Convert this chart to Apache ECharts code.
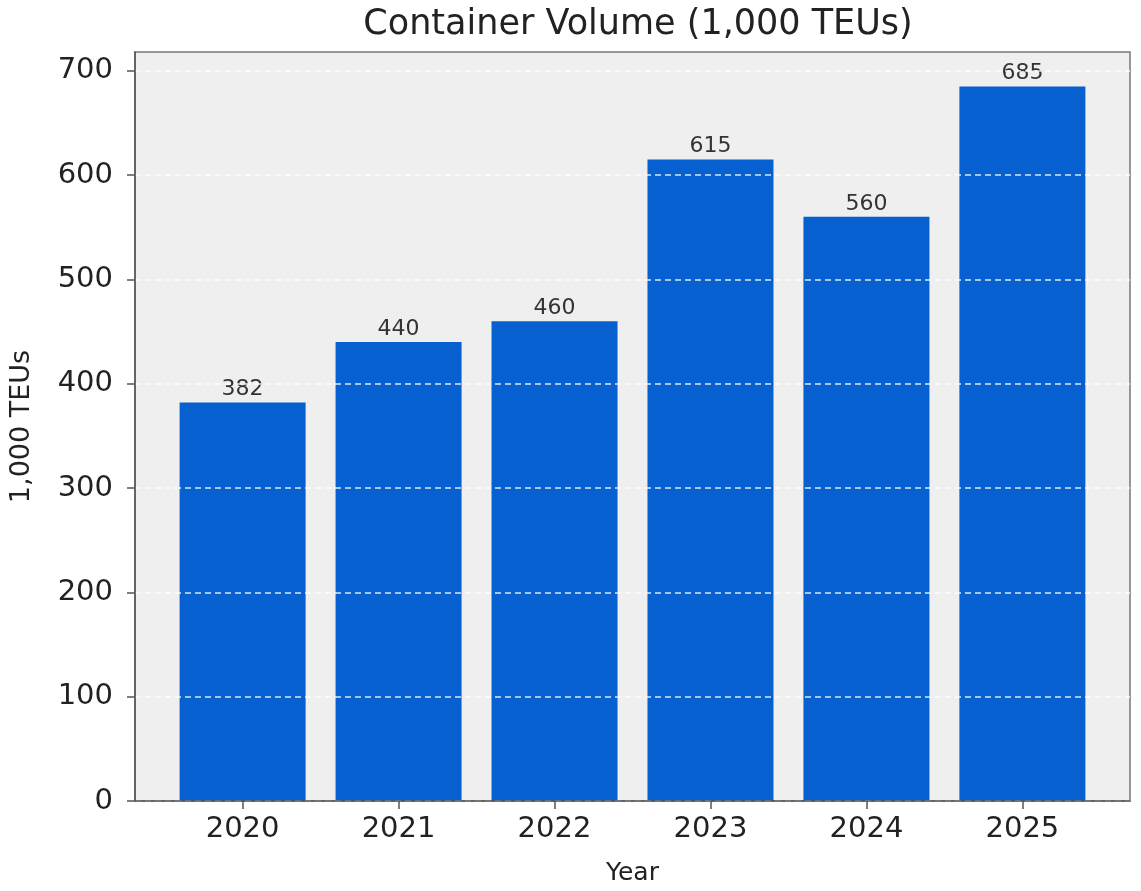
<!DOCTYPE html>
<html>
<head>
<meta charset="utf-8">
<script src="https://cdn.jsdelivr.net/npm/echarts@6/dist/echarts.min.js"></script>
<style>
html,body{margin:0;padding:0;background:#fff;}
#chart{width:1141px;height:891px;}
</style>
</head>
<body>
<div id="chart"></div>
<script>
const years = ['2020', '2021', '2022', '2023', '2024', '2025'];
const volumes = [382, 440, 460, 615, 560, 685];
const yTicks = [0, 100, 200, 300, 400, 500, 600, 700];

const FONT = 'DejaVu Sans';
const chart = echarts.init(document.getElementById('chart'));
const idx = years.map((y, i) => i);

chart.setOption({
  backgroundColor: '#ffffff',
  animation: false,
  title: {
    text: 'Container Volume (1,000 TEUs)',
    left: 633,
    textAlign: 'center',
    top: 2,
    textStyle: { fontFamily: FONT, fontSize: 35, fontWeight: 'normal', color: '#222' }
  },
  grid: {
    left: 133, right: 11, top: 52, bottom: 89,
    show: true,
    backgroundColor: '#efefef',
    borderColor: '#777',
    borderWidth: 1.5
  },
  xAxis: {
    type: 'value',
    min: -0.69,
    max: 5.69,
    z: 5,
    name: 'Year',
    nameLocation: 'middle',
    nameGap: 60,
    nameTextStyle: { fontFamily: FONT, fontSize: 25, color: '#222' },
    axisLine: { show: true, onZero: false, lineStyle: { color: '#555', width: 1.5 } },
    axisTick: { show: true, length: 8, lineStyle: { color: '#555', width: 1.5 }, customValues: idx },
    axisLabel: {
      customValues: idx,
      formatter: v => years[Math.round(v)],
      fontFamily: FONT, fontSize: 29, color: '#222', margin: 14
    },
    splitLine: { show: false }
  },
  yAxis: {
    type: 'value',
    min: 0,
    max: 718,
    interval: 100,
    z: 3,
    name: '1,000 TEUs',
    nameLocation: 'middle',
    nameGap: 100,
    nameTextStyle: { fontFamily: FONT, fontSize: 27, color: '#222' },
    axisLine: { show: true, onZero: false, lineStyle: { color: '#555', width: 1.5 } },
    axisTick: { show: true, length: 8, lineStyle: { color: '#555', width: 1.5 }, customValues: yTicks },
    axisLabel: {
      customValues: yTicks,
      fontFamily: FONT, fontSize: 29, color: '#222', margin: 22
    },
    splitLine: { show: true, lineStyle: { color: 'rgba(255,255,255,0.85)', width: 1.5, type: [6, 4] } }
  },
  series: [{
    type: 'bar',
    data: volumes.map((v, i) => [i, v]),
    barWidth: 126,
    itemStyle: { color: '#0660cf' },
    label: {
      show: true,
      position: 'top',
      distance: 2,
      formatter: p => p.value[1],
      fontFamily: FONT, fontSize: 22, color: '#333'
    }
  }]
});
</script>
</body>
</html>
